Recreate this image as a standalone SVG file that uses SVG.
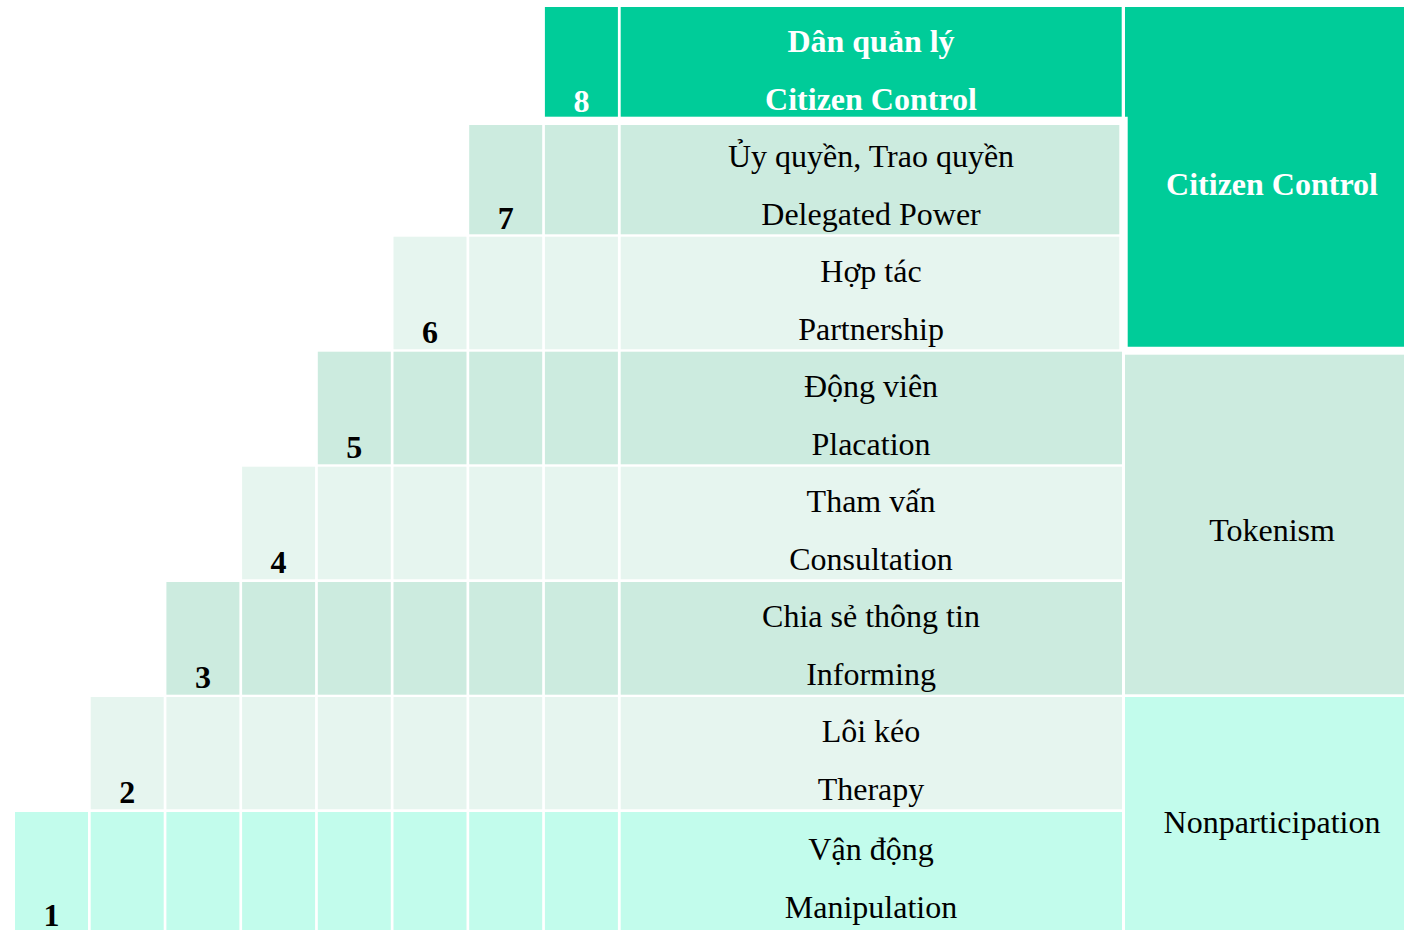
<svg xmlns="http://www.w3.org/2000/svg" width="1404" height="930" viewBox="0 0 1404 930">
<style>
.dk{fill:#00CC99}
.md{fill:#CCEBDF}
.lt{fill:#E6F5EF}
.cy{fill:#C2FCEC}
text{font-family:"Liberation Serif","Times New Roman",serif;font-size:32px;text-anchor:middle;fill:#000}
.b{font-weight:bold}
.w{fill:#FFFFFF}
</style>
<rect width="1404" height="930" fill="#FFFFFF"/>
<g id="row8">
<rect class="dk" x="544.9" y="7" width="73" height="109.7"/>
<rect class="dk" x="620.7" y="7" width="501" height="109.7"/>
<text class="b w" x="581.4" y="111.7">8</text>
<text class="b w" x="871" y="51.7">Dân quản lý</text>
<text class="b w" x="871" y="110">Citizen Control</text>
</g>
<g id="row7">
<rect class="md" x="469.2" y="125" width="73" height="109.3"/>
<rect class="md" x="544.9" y="125" width="73" height="109.3"/>
<rect class="md" x="620.7" y="125" width="498.6" height="109.3"/>
<text class="b" x="505.7" y="228.7">7</text>
<text x="871" y="167">Ủy quyền, Trao quyền</text>
<text x="871" y="225">Delegated Power</text>
</g>
<g id="row6">
<rect class="lt" x="393.5" y="236.7" width="73" height="112.6"/>
<rect class="lt" x="469.2" y="236.7" width="73" height="112.6"/>
<rect class="lt" x="544.9" y="236.7" width="73" height="112.6"/>
<rect class="lt" x="620.7" y="236.7" width="498.6" height="112.6"/>
<text class="b" x="430" y="343.3">6</text>
<text x="871" y="282">Hợp tác</text>
<text x="871" y="340">Partnership</text>
</g>
<g id="row5">
<rect class="md" x="317.8" y="351.7" width="73" height="112.6"/>
<rect class="md" x="393.5" y="351.7" width="73" height="112.6"/>
<rect class="md" x="469.2" y="351.7" width="73" height="112.6"/>
<rect class="md" x="544.9" y="351.7" width="73" height="112.6"/>
<rect class="md" x="620.7" y="351.7" width="501.3" height="112.6"/>
<text class="b" x="354.3" y="458">5</text>
<text x="871" y="397">Động viên</text>
<text x="871" y="455">Placation</text>
</g>
<g id="row4">
<rect class="lt" x="242.1" y="466.7" width="73" height="112.6"/>
<rect class="lt" x="317.8" y="466.7" width="73" height="112.6"/>
<rect class="lt" x="393.5" y="466.7" width="73" height="112.6"/>
<rect class="lt" x="469.2" y="466.7" width="73" height="112.6"/>
<rect class="lt" x="544.9" y="466.7" width="73" height="112.6"/>
<rect class="lt" x="620.7" y="466.7" width="501.3" height="112.6"/>
<text class="b" x="278.6" y="572.7">4</text>
<text x="871" y="512">Tham vấn</text>
<text x="871" y="570">Consultation</text>
</g>
<g id="row3">
<rect class="md" x="166.4" y="582" width="73" height="112.7"/>
<rect class="md" x="242.1" y="582" width="73" height="112.7"/>
<rect class="md" x="317.8" y="582" width="73" height="112.7"/>
<rect class="md" x="393.5" y="582" width="73" height="112.7"/>
<rect class="md" x="469.2" y="582" width="73" height="112.7"/>
<rect class="md" x="544.9" y="582" width="73" height="112.7"/>
<rect class="md" x="620.7" y="582" width="501.3" height="112.7"/>
<text class="b" x="202.9" y="688">3</text>
<text x="871" y="627">Chia sẻ thông tin</text>
<text x="871" y="685">Informing</text>
</g>
<g id="row2">
<rect class="lt" x="90.7" y="697" width="73" height="112.3"/>
<rect class="lt" x="166.4" y="697" width="73" height="112.3"/>
<rect class="lt" x="242.1" y="697" width="73" height="112.3"/>
<rect class="lt" x="317.8" y="697" width="73" height="112.3"/>
<rect class="lt" x="393.5" y="697" width="73" height="112.3"/>
<rect class="lt" x="469.2" y="697" width="73" height="112.3"/>
<rect class="lt" x="544.9" y="697" width="73" height="112.3"/>
<rect class="lt" x="620.7" y="697" width="501.3" height="112.3"/>
<text class="b" x="127.2" y="802.7">2</text>
<text x="871" y="742">Lôi kéo</text>
<text x="871" y="800">Therapy</text>
</g>
<g id="row1">
<rect class="cy" x="15" y="812" width="73" height="118"/>
<rect class="cy" x="90.7" y="812" width="73" height="118"/>
<rect class="cy" x="166.4" y="812" width="73" height="118"/>
<rect class="cy" x="242.1" y="812" width="73" height="118"/>
<rect class="cy" x="317.8" y="812" width="73" height="118"/>
<rect class="cy" x="393.5" y="812" width="73" height="118"/>
<rect class="cy" x="469.2" y="812" width="73" height="118"/>
<rect class="cy" x="544.9" y="812" width="73" height="118"/>
<rect class="cy" x="620.7" y="812" width="501.3" height="118"/>
<text class="b" x="51.5" y="925.7">1</text>
<text x="871" y="860">Vận động</text>
<text x="871" y="918">Manipulation</text>
</g>
<g id="group-citizen-control">
<path class="dk" d="M1125 7H1404V346.7H1127.7V116.7H1125Z"/>
<text class="b w" x="1272" y="195">Citizen Control</text>
</g>
<g id="group-tokenism">
<rect class="md" x="1125" y="354.7" width="279" height="339.6"/>
<text x="1272" y="541">Tokenism</text>
</g>
<g id="group-nonparticipation">
<rect class="cy" x="1125" y="697" width="279" height="233"/>
<text x="1272" y="833">Nonparticipation</text>
</g>
<g id="connectors"/>
</svg>
